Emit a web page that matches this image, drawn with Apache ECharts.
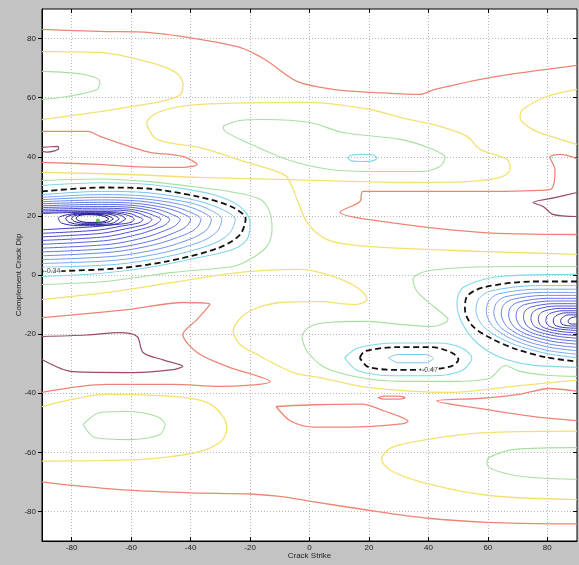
<!DOCTYPE html>
<html>
<head>
<meta charset="utf-8">
<script src="https://cdn.jsdelivr.net/npm/echarts@6/dist/echarts.min.js"></script>
<style>
html, body { margin: 0; padding: 0; background: #c3c3c3; }
#chart { width: 579px; height: 565px; }
</style>
</head>
<body>
<div id="chart"></div>
<script>
// Axis ticks (degrees)
const strikeTicks = [-80, -60, -40, -20, 0, 20, 40, 60, 80];
const dipTicks = [-80, -60, -40, -20, 0, 20, 40, 60, 80];

// Contour lines, [strike, dip] pairs, grouped by level colour
// highest level (maroon)
const maroonUpperLeft = [[-90,43.2],[-87,43.4],[-84.6,43.5],[-84.4,42.7],[-85.5,42.1],[-88.3,41.6],[-90,41.8]];
const maroonMidLeft = [[-90,-20.8],[-75,-20.3],[-63.8,-19.5],[-58,-20.8],[-56,-26.2],[-49,-28.8],[-42.6,-30.9],[-45.9,-32],[-59.4,-33],[-79.6,-32.7],[-90,-28.6]];
const maroonRight = [[90,27.9],[82.6,26.2],[75.2,24.5],[78.6,23.2],[81.9,20.5],[90,19.8]];

// red level
const redTop = [[-90,83.1],[-70.5,82.4],[-53.7,82.0],[-36.8,79.7],[-23.4,77.0],[-15,72.9],[-4.2,65.5],[8,62.8],[20.4,61.8],[37.2,61.1],[42.2,62.8],[60.7,66.8],[90,70.9]];
const redUpperLeft = [[-90,48.6],[-74.5,48.6],[-70.5,46.9],[-59.4,43.1],[-53.7,41.5],[-42.6,40.1],[-37.8,37.4],[-43.6,36.4],[-59.4,36.7],[-70.5,37.4],[-90,38.1]];
const redMidRight = [[90,39.4],[84.3,40.8],[80.9,39.8],[82.6,35.7],[80.9,28.9],[57.4,28.3],[18.0,28.3],[17.0,24.9],[10.3,21.2],[19.4,18.8],[57.4,14.4],[90,13.7]];
const redMidLeft = [[-90,-14.4],[-60.4,-11.6],[-42.6,-9.3],[-33.5,-9.9],[-37.8,-15],[-42.6,-20.1],[-37.8,-26.2],[-27.8,-30.9],[-13.3,-36],[-30.1,-37.7],[-45.9,-37],[-68.1,-37],[-90,-39.7]];
const redCentreLow = [[-11.3,-44.5],[1.7,-43.9],[17.5,-43.7],[25.4,-46.1],[33.2,-49.5],[31,-50.4],[13,-51.5],[1.7,-51.5],[-6.2,-49.5],[-11.3,-44.5]];
const redSmall = [[23,-41.5],[25,-41.0],[30,-41.0],[32.2,-41.5],[30,-42.0],[25,-42.0],[23,-41.5]];
const redRightLow = [[90,-39.3],[80.6,-38.4],[71.5,-40.2],[58,-41.7],[42.8,-42.6],[60.3,-45.6],[74.9,-47.8],[90,-49.3]];
const redBottom = [[-90,-70],[-80,-71.2],[-61.1,-72.8],[-39.9,-73.7],[-20,-74.1],[-10,-74.9],[0,-76.5],[19.9,-79.6],[39.9,-82.3],[59.8,-83.7],[82.2,-84.2],[90,-84.2]];

// yellow level
const yellowTopLeft = [[-90,75.6],[-70.5,75.3],[-53.7,71.9],[-45,68.5],[-42.5,64.5],[-43.5,61],[-48,59.2],[-55,57.8],[-70.5,55.3],[-90,52.6]];
const yellowTopRight = [[90,62.8],[79.9,60.4],[71.8,56.0],[70.8,53.3],[75.2,49.2],[84.3,45.9],[90,44.2]];
const yellowUpper = [[-90,34.7],[-60.4,34.0],[-36.8,33.0],[-6.6,32.3],[30.5,31.3],[53,31.6],[64.1,33.0],[67.5,35.7],[66.5,39.1],[57.4,42.5],[53,46.9],[43.9,50.3],[30.5,53.3],[20.4,56.0],[0.2,58.4],[-36.8,57.7],[-50.3,55.3],[-54.7,51.6],[-51.3,45.9],[-36.8,43.1],[-21,38.1],[-8.2,33.7],[-5.5,28.9],[-4.2,25.6],[-0.8,17.8],[5.9,12.0],[19.4,9.7],[57.4,8.0],[90,7.0]];
const yellowMiddle = [[-90,-8.3],[-68.1,-5.9],[-45.9,-2.5],[-23.4,0.9],[-3.2,1.9],[7.9,-0.5],[17.0,-4.9],[19.4,-8.3],[15.3,-10.0],[3.5,-9.0],[-9.9,-9.3],[-21.0,-12.7],[-25.7,-19.1],[-23.4,-23.5],[-19.0,-26.2],[-5.5,-33.0],[3.5,-34.7],[19.4,-38.0],[47.3,-39.7],[69.8,-37.5],[90,-35.6]];
const yellowLowerLeft = [[-90,-44.5],[-68.1,-40.4],[-45.9,-41.1],[-34.5,-43.1],[-29.1,-47.8],[-27.8,-52.2],[-30,-56.5],[-38,-60],[-55,-62.3],[-70,-62.8],[-90,-63]];
const yellowLowerRight = [[90,-52.8],[58,-53.4],[40,-55.6],[27.6,-58.4],[24.2,-62.3],[27.6,-66.3],[40,-70.7],[60.3,-74.6],[90,-76]];

// green level
const greenTopLeft = [[-90,68.9],[-76.2,67.9],[-70.5,65.5],[-71.5,62.8],[-81.6,60.4],[-90,59.4]];
const greenCentre = [[-29.1,50.3],[-23.4,52.3],[-15.6,52.6],[0.2,51.6],[11.3,48.2],[30.5,45.9],[41.6,42.5],[45.6,39.8],[43.9,36.7],[37.2,35.0],[23.7,35.0],[6.9,35.7],[-7.6,39.1],[-21.0,44.8],[-28.4,48.6],[-29.1,50.3]];
const greenLeftBlob = [[-90,32],[-70,32.5],[-54,31.6],[-36.8,29.6],[-25.7,28.0],[-16.6,25.6],[-13.3,21.2],[-12.6,15.4],[-14.3,9.7],[-20,5.3],[-25.7,2.9],[-45.9,0.9],[-68.1,-2.1],[-90,-3.2]];
const greenRightBlob = [[90,2.9],[70.8,2.9],[53.0,2.6],[38.9,1.2],[34.8,-1.5],[36.2,-5.6],[42.2,-11.0],[46.6,-15.1],[41.6,-17.4],[30.5,-16.7],[19.4,-15.7],[6.9,-16.0],[0.2,-17.4],[-2.5,-20.8],[-0.8,-25.8],[5.2,-31.3],[17.0,-34.7],[30.5,-36.0],[47.3,-36.0],[60.4,-35.0],[65.8,-30.6],[70.8,-32.6],[80.9,-34.0],[90,-34.3]];
const greenLowerLeft = [[-76.2,-50.6],[-70.5,-46.5],[-61.4,-46.2],[-51.3,-47.9],[-48.6,-50.6],[-50.3,-54],[-60.4,-55.7],[-72.2,-55],[-76.2,-50.6]];
const greenLowerRight = [[90,-58.4],[69.3,-59],[60.3,-61.8],[59.7,-64],[64.8,-66.8],[74.9,-68.5],[90,-69.1]];

// cyan level
const cyanSmallUpper = [[12.7,39.6],[14,40.5],[17.7,40.8],[21.5,40.5],[22.7,39.6],[21.5,38.7],[17.7,38.4],[14,38.7],[12.7,39.6]];
const leftBlobOuter = [[-90,30.3],[-70,31.2],[-53.7,30.6],[-36.8,28.2],[-27.8,25.6],[-22.4,22.2],[-20,17.8],[-21,12.1],[-25.7,8.7],[-36.8,6.0],[-53.7,2.6],[-70.5,0.5],[-90,-0.5]];
const rightBlobOuter = [[90,0.2],[64.1,-0.5],[51.7,-4.2],[49.6,-9.5],[51.3,-16.2],[56.4,-23],[64.1,-27.8],[75.2,-30.5],[90,-31.2]];
const smallLoopOuter = [[11.8,-28],[16.3,-24.7],[29.8,-23],[43.4,-23],[51.2,-24.7],[54.6,-28],[51.2,-32.4],[41.1,-34.1],[28.7,-34.1],[16.3,-32.4],[11.8,-28]];

// highlighted (dashed) level
const leftBlobDashed = [[-90,28.3],[-70,29.6],[-54,29.2],[-37,26.4],[-26,23],[-21.5,19],[-23.5,13.5],[-31,9],[-48,4.6],[-65,2.2],[-82,1.4],[-90,1.2]];
const rightBlobDashed = [[90,-2.2],[75.2,-2.2],[58.4,-4.2],[53,-7.2],[52.3,-11.6],[55,-17.4],[61.8,-21.8],[69.8,-25.2],[79.9,-27.9],[90,-29.3]];
const smallLoopDashed = [[16.9,-28],[18.6,-25.8],[29.8,-24.4],[41.1,-24.4],[47.9,-26.3],[50.1,-28.6],[47.9,-30.8],[41.1,-31.9],[29.8,-32.1],[19.7,-31.1],[16.9,-28]];
const levelLabels = ['-0.34', '-0.47'];
const levelLabelPoints = [[-86.5, 1.4], [40.5, -32.0]];

// lower levels inside the dashed contours (outermost first)
const leftBlobRings = [
  [[-90,27.2],[-70,28.3],[-54,27.8],[-38,25.2],[-29,22],[-25,18.8],[-27,14],[-33,10.3],[-48,6.2],[-65,3.6],[-90,2.6]],
  [[-90,26.3],[-70,27.2],[-55,26.7],[-40,24.4],[-33,21.8],[-29.5,18.8],[-31,14.8],[-36,11.5],[-49,7.6],[-65,5.0],[-90,3.9]],
  [[-90,25.5],[-70,26.3],[-56,25.8],[-43,23.8],[-36.5,21.5],[-33,18.8],[-34.5,15.4],[-39,12.6],[-50,9.0],[-65,6.4],[-90,5.2]],
  [[-90,24.8],[-70,25.4],[-57,25.0],[-46,23.2],[-40,21.2],[-36.5,18.8],[-38,15.9],[-42,13.6],[-52,10.3],[-66,7.8],[-90,6.5]],
  [[-90,24.1],[-70,24.6],[-58,24.2],[-48.5,22.7],[-43,20.9],[-40,18.8],[-41.5,16.4],[-45,14.5],[-53,11.6],[-66,9.1],[-90,7.8]],
  [[-90,23.4],[-70,23.9],[-59,23.5],[-51,22.2],[-46.5,20.6],[-43.5,18.8],[-45,16.8],[-48,15.3],[-55,12.8],[-67,10.4],[-90,9.1]],
  [[-90,22.8],[-70,23.2],[-60,22.9],[-53.5,21.8],[-49.5,20.4],[-47,18.8],[-48.3,17.1],[-51,15.9],[-57,13.9],[-68,11.7],[-90,10.4]],
  [[-90,22.2],[-71,22.6],[-61,22.3],[-56,21.4],[-52.5,20.2],[-50,18.8],[-51.3,17.4],[-53.5,16.4],[-59,14.9],[-69,12.9],[-90,11.7]],
  [[-90,21.7],[-71,22.0],[-62,21.8],[-58,21.1],[-55.3,20.0],[-53,18.8],[-54.2,17.6],[-56,16.9],[-61,15.8],[-70,14.1],[-90,12.9]],
  [[-90,21.2],[-72,21.5],[-64,21.3],[-60,20.7],[-58,19.8],[-56,18.8],[-57,17.8],[-58.8,17.3],[-63,16.6],[-71,15.2],[-90,14.1]],
  [[-90,20.8],[-72,21.3],[-65,21.0],[-61.5,20.3],[-59.5,19.5],[-59,18.8],[-60,17.9],[-62,17.4],[-66,17.0],[-73,16.3],[-90,15.3]],
  [[-61.8,19.0],[-63.5,20.2],[-68,20.9],[-75,21.0],[-81,20.5],[-84.5,19.2],[-83.5,17.6],[-78,16.7],[-70,16.7],[-64.5,17.4],[-61.8,19.0]],
  [[-64,19.0],[-65.5,20.1],[-69,20.7],[-75,20.8],[-80,20.3],[-82,19.2],[-81,17.9],[-77,17.1],[-70.5,17.1],[-66,17.6],[-64,19.0]],
  [[-66,19.0],[-67.5,19.9],[-70.5,20.5],[-75,20.6],[-79,20.1],[-80,19.1],[-79,18.1],[-76,17.5],[-71,17.5],[-67.5,18.0],[-66,19.0]],
  [[-67.5,19.0],[-69,19.8],[-71.5,20.3],[-75,20.4],[-77.8,20.0],[-78.5,19.1],[-77.5,18.3],[-75,17.8],[-71,17.8],[-68.5,18.3],[-67.5,19.0]]
];
const rightBlobRings = [
  [[90,-3.6],[76,-3.6],[61,-5.4],[57,-8],[56,-12],[58.3,-17.2],[64.2,-21.4],[71.5,-24.4],[80.5,-26.7],[90,-28]],
  [[90,-4.8],[77,-4.8],[63.5,-6.4],[60.3,-8.8],[59.5,-12.4],[61.5,-17.2],[66.5,-20.9],[73,-23.6],[81,-25.7],[90,-26.8]],
  [[90,-5.9],[78,-5.9],[65.7,-7.4],[62.8,-9.6],[62,-12.8],[63.8,-17.2],[68.3,-20.4],[74.2,-22.8],[81.5,-24.6],[90,-25.6]],
  [[90,-6.9],[79,-6.9],[68,-8.3],[65.2,-10.3],[64.5,-13.2],[66.2,-17.2],[70.2,-20],[75.5,-22],[82,-23.6],[90,-24.5]],
  [[90,-7.9],[80,-7.9],[70.2,-9.2],[67.6,-11],[67,-13.6],[68.5,-17.2],[72,-19.6],[76.8,-21.3],[82.6,-22.6],[90,-23.4]],
  [[90,-8.8],[81,-8.8],[72.4,-10],[70.1,-11.6],[69.5,-14],[70.8,-17.2],[74,-19.2],[78.1,-20.6],[83.2,-21.7],[90,-22.4]],
  [[90,-9.7],[82,-9.7],[74.6,-10.8],[72.5,-12.2],[72,-14.4],[73.2,-17.2],[75.8,-18.8],[79.4,-19.9],[83.8,-20.8],[90,-21.4]],
  [[90,-10.5],[83,-10.5],[76.8,-11.5],[75,-12.8],[74.5,-14.8],[75.5,-17.2],[77.8,-18.4],[80.7,-19.3],[84.4,-20],[90,-20.5]],
  [[90,-11.3],[84,-11.3],[79,-12.2],[77.4,-13.3],[77,-15.1],[77.8,-17.1],[79.6,-18.1],[82,-18.7],[85,-19.2],[90,-19.6]],
  [[90,-12.1],[85,-12.1],[81.2,-12.9],[79.9,-13.9],[79.5,-15.4],[80.2,-17],[81.6,-17.7],[83.4,-18.2],[86,-18.5],[90,-18.8]],
  [[90,-12.8],[86,-12.8],[83.4,-13.5],[82.3,-14.4],[82,-15.6],[82.5,-16.9],[83.6,-17.4],[85,-17.7],[87,-17.9],[90,-18.0]],
  [[90,-13.5],[87,-13.5],[85.5,-14.1],[84.7,-14.8],[84.5,-15.8],[85,-16.7],[86,-17],[87.5,-17.2],[90,-17.3]],
  [[90,-14.1],[88.3,-14.4],[87.3,-15],[87,-15.8],[87.4,-16.4],[88.5,-16.6],[90,-16.6]]
];
const smallLoopInner = [[26.5,-28],[29.8,-26.9],[38.9,-26.9],[41.7,-28.2],[38.9,-29.7],[29.8,-29.7],[26.5,-28]];

// minimum of the field
const minimumPoint = [[-71.2, 18.4]];

// ---- styling ----
const FONT = '"Liberation Sans", Arial, sans-serif';
const C_MAROON = '#9c4a6c';
const C_RED = '#ee8474';
const C_YELLOW = '#f4e070';
const C_GREEN = '#a6e0a0';
const C_CYAN = '#80d8e8';
const leftRingColors = ['#78c4f0', '#7aa8f2', '#7096ee', '#6886ea', '#6276e4', '#5c6ae0', '#5660da', '#5056d4', '#4a4ccc', '#4444c4', '#3c3aba', '#3230aa', '#28249a', '#1e1a8c', '#161480'];
const rightRingColors = ['#78c4f0', '#7aa8f2', '#7298ee', '#6a88ea', '#6478e6', '#5e6ce0', '#5862da', '#5258d4', '#4c4ecc', '#4646c4', '#3e3cba', '#3632ae', '#2c28a0'];

function contour(data, color, width, dashed) {
  return {
    type: 'line',
    data: data,
    xAxisIndex: 0,
    yAxisIndex: 0,
    showSymbol: false,
    smooth: 0.3,
    silent: true,
    animation: false,
    z: dashed ? 6 : 3,
    lineStyle: { color: color, width: width || 1.1, type: dashed ? [6, 3.5] : 'solid' }
  };
}

const series = [];
[maroonUpperLeft, maroonMidLeft, maroonRight].forEach(d => series.push(contour(d, C_MAROON, 1.2)));
[redTop, redUpperLeft, redMidRight, redMidLeft, redCentreLow, redSmall, redRightLow, redBottom].forEach(d => series.push(contour(d, C_RED, 1.3)));
[yellowTopLeft, yellowTopRight, yellowUpper, yellowMiddle, yellowLowerLeft, yellowLowerRight].forEach(d => series.push(contour(d, C_YELLOW, 1.3)));
[greenTopLeft, greenCentre, greenLeftBlob, greenRightBlob, greenLowerLeft, greenLowerRight].forEach(d => series.push(contour(d, C_GREEN, 1.1)));
[cyanSmallUpper, leftBlobOuter, rightBlobOuter, smallLoopOuter].forEach(d => series.push(contour(d, C_CYAN, 1.1)));
leftBlobRings.forEach((d, i) => series.push(contour(d, leftRingColors[i], 1)));
rightBlobRings.forEach((d, i) => series.push(contour(d, rightRingColors[i], 1)));
series.push(contour(smallLoopInner, '#7cc6ee', 1));
[leftBlobDashed, rightBlobDashed, smallLoopDashed].forEach(d => series.push(contour(d, '#111111', 1.8, true)));

series.push({
  type: 'scatter',
  data: levelLabelPoints,
  symbolSize: 0,
  silent: true,
  animation: false,
  z: 8,
  label: {
    show: true,
    position: 'inside',
    formatter: p => levelLabels[p.dataIndex],
    fontSize: 7,
    fontFamily: FONT,
    color: '#111',
    backgroundColor: '#ffffff',
    padding: [0, 1]
  }
});
series.push({
  type: 'scatter',
  data: minimumPoint,
  symbol: 'circle',
  symbolSize: 4,
  silent: true,
  animation: false,
  z: 8,
  itemStyle: { color: '#3cc03c' }
});

const chart = echarts.init(document.getElementById('chart'), null, { renderer: 'canvas' });
chart.setOption({
  backgroundColor: '#c3c3c3',
  animation: false,
  grid: {
    left: 42, right: 2, top: 9, bottom: 24,
    outerBoundsMode: 'none', containLabel: false,
    show: true, backgroundColor: '#ffffff', borderColor: '#000', borderWidth: 1
  },
  xAxis: [{
    type: 'value', min: -90, max: 90, splitNumber: 9, position: 'bottom',
    name: 'Crack Strike', nameLocation: 'middle', nameGap: 11, nameMoveOverlap: false,
    nameTextStyle: { fontSize: 8, color: '#222', fontFamily: FONT },
    axisLine: { show: true, onZero: false, lineStyle: { color: '#000', width: 1 } },
    axisTick: { show: true, inside: true, length: 4, customValues: strikeTicks, lineStyle: { color: '#000' } },
    axisLabel: { customValues: strikeTicks, fontSize: 8, color: '#222', margin: 3, fontFamily: FONT },
    splitLine: { show: true, lineStyle: { color: '#b8b8b8', width: 1, type: [1, 2] } }
  }, {
    type: 'value', min: -90, max: 90, splitNumber: 9, position: 'top',
    axisLine: { show: false, onZero: false },
    axisTick: { show: true, inside: true, length: 4, customValues: strikeTicks, lineStyle: { color: '#000' } },
    axisLabel: { show: false },
    splitLine: { show: false }
  }],
  yAxis: [{
    type: 'value', min: -90, max: 90, splitNumber: 9, position: 'left',
    name: 'Complement Crack Dip', nameLocation: 'middle', nameGap: 19, nameRotate: 90, nameMoveOverlap: false,
    nameTextStyle: { fontSize: 8, color: '#222', fontFamily: FONT },
    axisLine: { show: true, onZero: false, lineStyle: { color: '#000', width: 1 } },
    axisTick: { show: true, inside: false, length: 4, customValues: dipTicks, lineStyle: { color: '#000' } },
    axisLabel: { customValues: dipTicks, fontSize: 8, color: '#222', margin: 6, fontFamily: FONT },
    splitLine: { show: true, lineStyle: { color: '#b8b8b8', width: 1, type: [1, 2] } }
  }, {
    type: 'value', min: -90, max: 90, splitNumber: 9, position: 'right',
    axisLine: { show: false, onZero: false },
    axisTick: { show: true, inside: true, length: 4, customValues: dipTicks, lineStyle: { color: '#000' } },
    axisLabel: { show: false },
    splitLine: { show: false }
  }],
  series: series
});
</script>
</body>
</html>
